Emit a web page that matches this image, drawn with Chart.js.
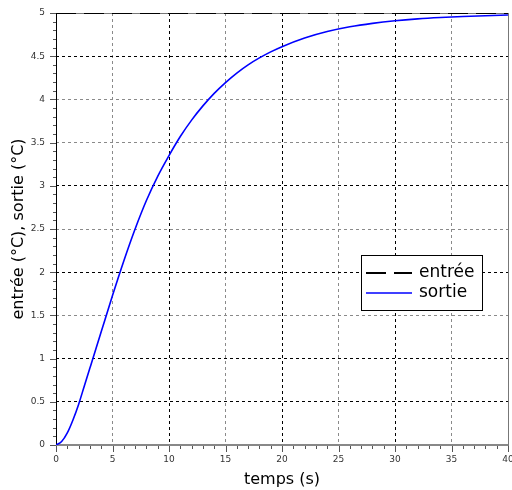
<!DOCTYPE html>
<html><head><meta charset="utf-8">
<script src="https://cdn.jsdelivr.net/npm/chart.js@4/dist/chart.umd.min.js"></script>
<style>html,body{margin:0;padding:0;background:#fff;}#wrap{position:relative;width:512px;height:490px;}</style>
</head><body><div id="wrap"><canvas id="c" width="512" height="490"></canvas></div>
<script>
const timeValues   = [0, 0.5, 1, 1.5, 2, 2.5, 3, 4, 5, 6, 7, 8, 9, 10, 11, 12, 13, 14, 15, 16, 17, 18, 19, 20, 22, 24, 26, 28, 30, 32, 34, 36, 38, 40];
const sortieValues = [0, 0.04, 0.14, 0.29, 0.47, 0.68, 0.89, 1.31, 1.73, 2.13, 2.50, 2.83, 3.11, 3.35, 3.57, 3.76, 3.925, 4.07, 4.195, 4.305, 4.40, 4.48, 4.55, 4.61, 4.71, 4.785, 4.84, 4.88, 4.91, 4.932, 4.948, 4.96, 4.969, 4.976];
const entreeTime   = [0, 40];
const entreeValues = [5, 5];
const seriesLabels = ['entrée', 'sortie'];
const xTitle = 'temps (s)';
const yTitle = 'entrée (°C), sortie (°C)';
const xRange = [0, 40], xStep = 5, xMinor = 1;
const yRange = [0, 5], yStep = 0.5, yMinor = 0.1;

const FONT = 'DejaVu Sans';
const grayX = v => (v % 10 !== 0);
const grayYSet = [4, 3.5, 2.5, 1.5];

const framePlugin = {
  id: 'frame',
  beforeDatasetsDraw(chart) {
    const {ctx, chartArea: a, scales: {x, y}} = chart;
    ctx.save();
    ctx.lineWidth = 1;
    ctx.strokeStyle = '#777';
    ctx.strokeRect(Math.round(a.left) + 0.5, Math.round(a.top) + 0.5, Math.round(a.right - a.left), Math.round(a.bottom - a.top));
    ctx.strokeStyle = '#000';
    ctx.beginPath(); ctx.moveTo(Math.round(a.left) + 0.5, a.top); ctx.lineTo(Math.round(a.left) + 0.5, a.bottom); ctx.stroke();
    ctx.strokeStyle = '#888'; ctx.lineWidth = 2;
    ctx.beginPath(); ctx.moveTo(a.left, Math.round(a.bottom)); ctx.lineTo(a.right, Math.round(a.bottom)); ctx.stroke();
    ctx.lineWidth = 1; ctx.strokeStyle = '#555';
    const nx = Math.round((xRange[1] - xRange[0]) / xMinor);
    for (let i = 0; i <= nx; i++) {
      const v = xRange[0] + i * xMinor;
      const px = Math.round(x.getPixelForValue(v)) + 0.5;
      const major = Math.abs(v / xStep - Math.round(v / xStep)) < 1e-6;
      ctx.beginPath(); ctx.moveTo(px, a.bottom + 1); ctx.lineTo(px, a.bottom + (major ? 7 : 4)); ctx.stroke();
    }
    const ny = Math.round((yRange[1] - yRange[0]) / yMinor);
    for (let i = 0; i <= ny; i++) {
      const v = yRange[0] + i * yMinor;
      const py = Math.round(y.getPixelForValue(v)) + 0.5;
      const major = Math.abs(v / yStep - Math.round(v / yStep)) < 1e-6;
      ctx.beginPath(); ctx.moveTo(a.left, py); ctx.lineTo(a.left - (major ? 6 : 3), py); ctx.stroke();
    }
    ctx.restore();
  }
};

const legendPlugin = {
  id: 'boxLegend',
  afterDraw(chart) {
    const {ctx} = chart;
    const bx = 361, by = 255, bw = 121, bh = 55;
    ctx.save();
    ctx.fillStyle = '#fff';
    ctx.fillRect(bx, by, bw, bh);
    ctx.strokeStyle = '#000'; ctx.lineWidth = 1;
    ctx.strokeRect(bx + 0.5, by + 0.5, bw, bh);
    const rows = [273, 293];
    chart.data.datasets.forEach((ds, i) => {
      const yy = rows[i];
      ctx.strokeStyle = ds.borderColor;
      ctx.lineWidth = ds.borderWidth;
      ctx.setLineDash(ds.borderDash || []);
      ctx.beginPath(); ctx.moveTo(366, yy); ctx.lineTo(412, yy); ctx.stroke();
      ctx.setLineDash([]);
      ctx.fillStyle = '#000';
      ctx.font = '17px "' + FONT + '"';
      ctx.textBaseline = 'middle';
      ctx.textAlign = 'left';
      ctx.fillText(ds.label, 419, yy);
    });
    ctx.restore();
  }
};

const fmt = v => String(Number(Number(v).toFixed(2)));

new Chart(document.getElementById('c'), {
  type: 'line',
  data: {
    datasets: [
      {
        label: seriesLabels[0],
        data: entreeTime.map((t, i) => ({x: t, y: entreeValues[i]})),
        borderColor: '#000', borderWidth: 2, borderDash: [20, 8],
        pointRadius: 0, fill: false
      },
      {
        label: seriesLabels[1],
        data: timeValues.map((t, i) => ({x: t, y: sortieValues[i]})),
        borderColor: '#0000ff', borderWidth: 1.6,
        pointRadius: 0, fill: false, cubicInterpolationMode: 'monotone'
      }
    ]
  },
  options: {
    responsive: false, animation: false, devicePixelRatio: 1,
    layout: {padding: {top: 13, right: 4, left: 0, bottom: 0}},
    plugins: {legend: {display: false}, tooltip: {enabled: false}},
    scales: {
      x: {
        type: 'linear', min: xRange[0], max: xRange[1],
        afterFit: s => { s.height = 45; s.paddingLeft = 0; s.paddingRight = 0; },
        ticks: {stepSize: xStep, color: '#333', font: {family: FONT, size: 9}, padding: 9, maxRotation: 0, callback: fmt},
        grid: {
          drawTicks: false, lineWidth: 1,
          color: c => (c.tick.value === xRange[0] || c.tick.value === xRange[1]) ? 'rgba(0,0,0,0)' : (grayX(c.tick.value) ? '#8a8a8a' : '#000')
        },
        border: {display: false, dash: [3, 3]},
        title: {display: true, text: xTitle, color: '#000', font: {family: FONT, size: 16}, padding: {top: 0, bottom: 1}}
      },
      y: {
        type: 'linear', min: yRange[0], max: yRange[1],
        afterFit: s => { s.width = 56; s.paddingTop = 0; s.paddingBottom = 0; },
        ticks: {stepSize: yStep, color: '#333', font: {family: FONT, size: 9}, padding: 11, callback: fmt},
        grid: {
          drawTicks: false, lineWidth: 1,
          color: c => (c.tick.value === yRange[0] || c.tick.value === yRange[1]) ? 'rgba(0,0,0,0)' : (grayYSet.includes(c.tick.value) ? '#8a8a8a' : '#000')
        },
        border: {display: false, dash: [3, 3]},
        title: {display: true, text: yTitle, color: '#000', font: {family: FONT, size: 16}, padding: {top: 9, bottom: 0}}
      }
    }
  },
  plugins: [framePlugin, legendPlugin]
});
</script></body></html>
